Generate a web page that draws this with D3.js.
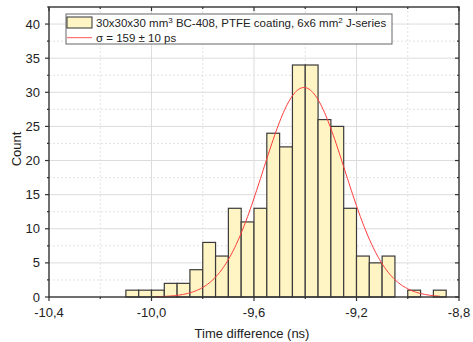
<!DOCTYPE html>
<html><head><meta charset="utf-8">
<script src="https://cdn.jsdelivr.net/npm/d3@7"></script>
<style>body{margin:0;background:#fff}svg{font-family:"Liberation Sans",Arial,sans-serif}</style>
</head><body><svg id="c" width="473" height="342"></svg>
<script>
// Histogram bins (left edges, ns) and counts
const binStarts = [-10.10,-10.05,-10.00,-9.95,-9.90,-9.85,-9.80,-9.75,-9.70,-9.65,-9.60,-9.55,-9.50,-9.45,-9.40,-9.35,-9.30,-9.25,-9.20,-9.15,-9.10,-9.05,-9.00,-8.95,-8.90];
const counts    = [1,1,1,2,2,4,8,6,13,11,13,24,22,34,34,26,25,13,6,5,6,0,1,0,1];
const binWidth = 0.05;
// Gaussian fit parameters
const fitCenter = -9.405, fitSigma = 0.159, fitAmp = 30.7, fitRange = [-9.985, -8.875];
const xTicks = [-10.4,-10.0,-9.6,-9.2,-8.8];
const xTickLabels = ["-10,4","-10,0","-9,6","-9,2","-8,8"];
const yTicks = [0,5,10,15,20,25,30,35,40];
const legendLabels = ["30x30x30 mm","3"," BC-408, PTFE coating, 6x6 mm","2"," J-series"];
const fitLabel = "σ = 159 ± 10 ps";

const svg = d3.select("#c");
const L=49,R=459,T=7,B=297;
const x = d3.scaleLinear().domain([-10.4,-8.8]).range([L,R]);
const y = d3.scaleLinear().domain([0,42.5]).range([B,T]);

// grid
const g = svg.append("g");
const xMinor = d3.range(-10.2,-8.85,0.4);
const yMinor = d3.range(2.5,42.5,5);
g.selectAll(".xm").data(xMinor).join("line").attr("x1",d=>x(d)).attr("x2",d=>x(d)).attr("y1",T).attr("y2",B)
 .attr("stroke","#e2e2e2").attr("stroke-dasharray","2,2");
g.selectAll(".ym").data(yMinor).join("line").attr("y1",d=>y(d)).attr("y2",d=>y(d)).attr("x1",L).attr("x2",R)
 .attr("stroke","#e2e2e2").attr("stroke-dasharray","2,2");
g.selectAll(".xM").data(xTicks.slice(1,-1)).join("line").attr("x1",d=>x(d)).attr("x2",d=>x(d)).attr("y1",T).attr("y2",B)
 .attr("stroke","#dcdcdc");
g.selectAll(".yM").data(yTicks.slice(1)).join("line").attr("y1",d=>y(d)).attr("y2",d=>y(d)).attr("x1",L).attr("x2",R)
 .attr("stroke","#dcdcdc");

// bars
svg.append("g").selectAll("rect").data(binStarts.map((s,i)=>({s,c:counts[i]})).filter(d=>d.c>0)).join("rect")
 .attr("x",d=>x(d.s)).attr("width",d=>x(d.s+binWidth)-x(d.s))
 .attr("y",d=>y(d.c)).attr("height",d=>y(0)-y(d.c))
 .attr("fill","#fff4c4").attr("stroke","#3a3a3a").attr("stroke-width",1.2);

// fit curve
const pts = d3.range(fitRange[0], fitRange[1]+1e-9, 0.005).map(t=>[t, fitAmp*Math.exp(-((t-fitCenter)**2)/(2*fitSigma*fitSigma))]);
svg.append("path").attr("d",d3.line().x(d=>x(d[0])).y(d=>y(d[1])).curve(d3.curveMonotoneX)(pts))
 .attr("fill","none").attr("stroke","#ff3b3b").attr("stroke-width",1);

// axes
const ax = svg.append("g").attr("stroke","#333");
ax.append("rect").attr("x",L).attr("y",T).attr("width",R-L).attr("height",B-T).attr("fill","none").attr("stroke-width",1.4);
const xAll = d3.range(-10.4,-8.75,0.2);
xAll.forEach((v,i)=>{const len = i%2===0?4:2;
  ax.append("line").attr("x1",x(v)).attr("x2",x(v)).attr("y1",B).attr("y2",B+len).attr("stroke-width",1.2);
  ax.append("line").attr("x1",x(v)).attr("x2",x(v)).attr("y1",T).attr("y2",T+len).attr("stroke-width",1.2);});
const yAll = d3.range(0,42.6,2.5);
yAll.forEach((v,i)=>{const len = i%2===0?4:2;
  ax.append("line").attr("y1",y(v)).attr("y2",y(v)).attr("x1",L-len).attr("x2",L).attr("stroke-width",1.2);
  ax.append("line").attr("y1",y(v)).attr("y2",y(v)).attr("x1",R-len).attr("x2",R).attr("stroke-width",1.2);});

// tick labels
svg.append("g").selectAll("text").data(xTicks).join("text").attr("x",d=>x(d)).attr("y",316.5)
 .attr("text-anchor","middle").attr("font-size",13).attr("fill","#222").text((d,i)=>xTickLabels[i]);
svg.append("g").selectAll("text").data(yTicks).join("text").attr("x",40).attr("y",d=>y(d)+4.6)
 .attr("text-anchor","end").attr("font-size",13).attr("fill","#222").text(d=>d);

// axis titles
svg.append("text").attr("x",252).attr("y",338).attr("text-anchor","middle").attr("font-size",13).attr("fill","#222").text("Time difference (ns)");
svg.append("text").attr("transform","translate(21,149) rotate(-90)").attr("text-anchor","middle").attr("font-size",13).attr("fill","#222").text("Count");

// legend
const lg = svg.append("g");
lg.append("rect").attr("x",66).attr("y",14).attr("width",326).attr("height",30).attr("fill","#fff").attr("stroke","#666").attr("stroke-width",1);
lg.append("rect").attr("x",67).attr("y",17).attr("width",25).attr("height",11).attr("fill","#fff4c4").attr("stroke","#333").attr("stroke-width",1);
const t1 = lg.append("text").attr("x",96).attr("y",27).attr("font-size",11.5).attr("fill","#222");
legendLabels.forEach((s,i)=>{const sp=t1.append("tspan").text(s); if(i===1||i===3){sp.attr("font-size",8).attr("dy",-4);} else if(i>0){sp.attr("dy",4);} });
lg.append("line").attr("x1",67).attr("x2",92).attr("y1",37.7).attr("y2",37.7).attr("stroke","#ff5555").attr("stroke-width",1);
lg.append("text").attr("x",96).attr("y",41.5).attr("font-size",11.5).attr("fill","#222").text(fitLabel);
</script></body></html>
